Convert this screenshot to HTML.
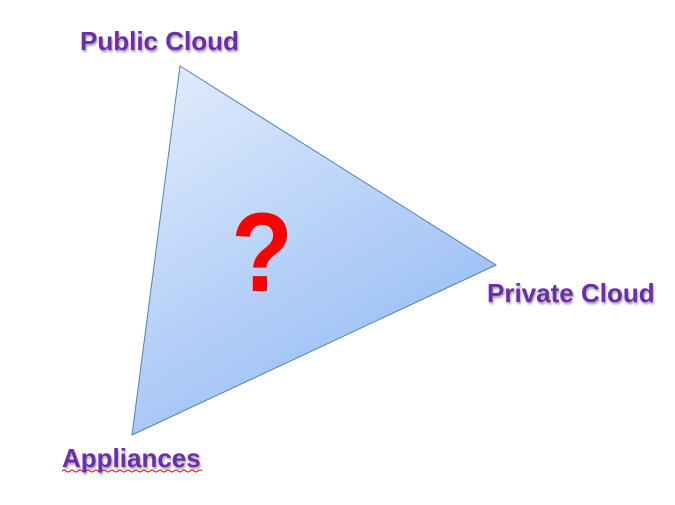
<!DOCTYPE html>
<html><head><style>
body{margin:0;width:675px;height:505px;background:#fff;overflow:hidden;position:relative;font-family:"Liberation Sans",sans-serif}
.l{position:absolute;font-weight:bold;font-size:26px;color:#6a2fa8;letter-spacing:0;text-shadow:1px 2px 2px rgba(60,20,90,0.45);white-space:nowrap}
</style></head><body>
<svg width="675" height="505" style="position:absolute;left:0;top:0">
<defs><linearGradient id="g" x1="0" y1="0" x2="0.6" y2="1">
<stop offset="0" stop-color="#e4eefd"/><stop offset="1" stop-color="#94bbf4"/></linearGradient></defs>
<polygon points="180,66 496,265 132,435" fill="url(#g)" stroke="#4f81bd" stroke-width="1"/>
<text x="262" y="291" font-family="Liberation Sans" font-weight="bold" font-size="112" fill="#f00" text-anchor="middle" transform="translate(262,0) scale(0.9,1) translate(-262,0)">?</text>
<path d="M62 471 q2 -2 4 0 t4 0 t4 0 t4 0 t4 0 t4 0 t4 0 t4 0 t4 0 t4 0 t4 0 t4 0 t4 0 t4 0 t4 0 t4 0 t4 0 t4 0 t4 0 t4 0 t4 0 t4 0 t4 0 t4 0 t4 0 t4 0 t4 0 t4 0 t4 0 t4 0 t4 0 t4 0 t4 0 t4 0 t4 0" fill="none" stroke="#f00" stroke-width="1"/>
</svg>
<div class="l" style="left:80px;top:26px">Public Cloud</div>
<div class="l" style="left:487px;top:278px">Private Cloud</div>
<div class="l" style="left:62px;top:443px">Appliances</div>
</body></html>
